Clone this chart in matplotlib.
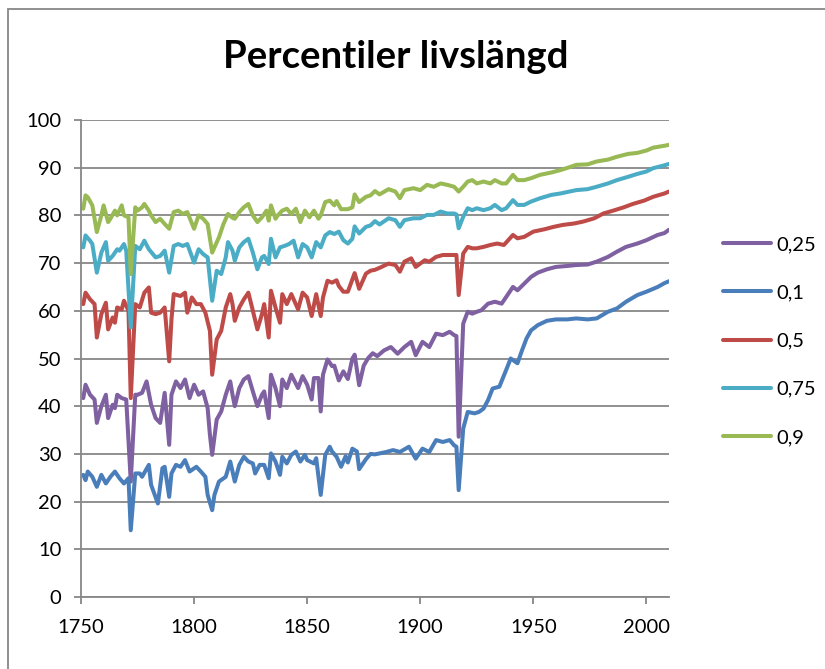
import matplotlib
matplotlib.use('Agg')
import matplotlib.pyplot as plt
from matplotlib.patches import Rectangle

# values (year, remaining life length percentile)
years_25 = [1751, 1752, 1754, 1756, 1757, 1759, 1761, 1762, 1764, 1765, 1766, 1768, 1770, 1772,
            1774, 1775, 1777, 1779, 1781, 1783, 1785, 1787, 1789, 1790, 1792, 1794, 1796, 1798,
            1800, 1802, 1804, 1806, 1807, 1808, 1810, 1812, 1814, 1816, 1817, 1818, 1820, 1822,
            1824, 1826, 1828, 1830, 1831, 1833, 1834, 1836, 1838, 1839, 1841, 1843, 1846, 1848,
            1850, 1852, 1853, 1855, 1856, 1857, 1859, 1861, 1862, 1864, 1866, 1868, 1870, 1871,
            1873, 1875, 1877, 1879, 1881, 1884, 1887, 1890, 1893, 1896, 1898, 1901, 1904, 1907,
            1910, 1913, 1915, 1916, 1917, 1919, 1921, 1923, 1925, 1927, 1930, 1933, 1936, 1939,
            1941, 1943, 1946, 1949, 1952, 1956, 1960, 1965, 1969, 1974, 1978, 1983, 1987, 1991,
            1996, 2000, 2005, 2008, 2010]
p25 = [41.7, 44.5, 42.4, 41.4, 36.5, 40.0, 42.4, 37.5, 40.3, 39.6, 42.4, 41.7, 41.4, 24.2,
       42.4, 42.4, 42.8, 45.2, 40.3, 37.5, 36.5, 42.8, 31.9, 42.4, 45.2, 43.8, 45.6, 41.7,
       44.5, 42.4, 43.1, 39.6, 34.0, 29.8, 37.2, 38.9, 42.4, 45.2, 42.4, 40.0, 43.8, 45.6,
       46.3, 43.1, 40.0, 42.4, 43.1, 37.5, 46.6, 43.8, 40.0, 45.6, 43.8, 46.6, 43.8, 46.3,
       44.5, 41.4, 45.9, 45.9, 38.9, 46.6, 49.8, 48.4, 48.5, 45.4, 47.3, 45.7, 50.0, 50.8,
       44.4, 48.5, 50.1, 51.1, 50.5, 51.7, 52.4, 51.0, 52.4, 53.5, 50.7, 53.5, 52.4, 55.2,
       54.9, 55.6, 54.9, 54.7, 33.6, 57.3, 59.8, 59.4, 59.8, 60.1, 61.5, 61.9, 61.5, 63.6,
       65.0, 64.3, 65.7, 67.1, 68.0, 68.7, 69.2, 69.4, 69.6, 69.7, 70.3, 71.3, 72.4, 73.4,
       74.1, 74.8, 75.9, 76.3, 77.0]

years_10 = [1751, 1752, 1753, 1755, 1757, 1759, 1761, 1763, 1765, 1767, 1769, 1771, 1772, 1774,
            1776, 1777, 1780, 1781, 1784, 1786, 1787, 1789, 1790, 1792, 1794, 1796, 1798, 1801,
            1803, 1805, 1806, 1808, 1809, 1811, 1814, 1816, 1817, 1818, 1820, 1822, 1824, 1826,
            1827, 1829, 1831, 1833, 1834, 1836, 1838, 1839, 1841, 1843, 1845, 1847, 1849, 1850,
            1853, 1854, 1856, 1858, 1860, 1861, 1863, 1865, 1867, 1868, 1870, 1872, 1873, 1876,
            1878, 1880, 1882, 1885, 1888, 1891, 1895, 1898, 1901, 1904, 1907, 1910, 1913, 1915,
            1916, 1917, 1919, 1921, 1924, 1926, 1928, 1930, 1932, 1935, 1938, 1940, 1943, 1945,
            1947, 1949, 1952, 1956, 1960, 1965, 1969, 1974, 1978, 1983, 1987, 1991, 1996, 2000,
            2005, 2008, 2010]
p10 = [25.6, 24.5, 26.3, 25.2, 23.1, 25.6, 23.8, 25.2, 26.3, 24.9, 23.8, 24.9, 14.0, 25.9,
       25.9, 25.2, 27.7, 23.5, 19.6, 27.0, 27.3, 21.0, 25.9, 27.7, 27.3, 28.7, 26.3, 27.3,
       26.3, 25.2, 21.4, 18.2, 21.4, 24.2, 25.2, 28.4, 26.3, 24.2, 27.7, 29.4, 28.4, 28.0,
       25.9, 27.7, 27.7, 24.9, 30.1, 28.4, 25.6, 29.4, 28.0, 29.8, 30.5, 28.4, 29.8, 28.7,
       28.0, 29.1, 21.4, 29.8, 31.5, 30.5, 29.4, 27.3, 29.5, 28.2, 31.1, 30.5, 26.8, 28.9,
       30.0, 29.9, 30.1, 30.4, 30.8, 30.4, 31.5, 29.0, 31.1, 30.4, 32.9, 32.5, 32.9, 31.8,
       31.5, 22.4, 35.3, 38.8, 38.5, 38.8, 39.5, 41.3, 43.7, 44.1, 47.6, 50.0, 49.0, 51.7,
       54.2, 55.9, 57.0, 57.9, 58.2, 58.2, 58.4, 58.2, 58.4, 59.8, 60.5, 61.9, 63.3, 64.0,
       65.0, 65.8, 66.2]

years_50 = [1751, 1752, 1754, 1756, 1757, 1759, 1761, 1762, 1764, 1765, 1766, 1768, 1769, 1771,
            1772, 1774, 1776, 1778, 1780, 1781, 1783, 1785, 1787, 1789, 1790, 1791, 1794, 1796,
            1797, 1799, 1801, 1803, 1805, 1807, 1808, 1810, 1812, 1814, 1816, 1817, 1818, 1820,
            1822, 1824, 1826, 1828, 1830, 1831, 1833, 1834, 1836, 1838, 1839, 1841, 1843, 1846,
            1848, 1850, 1852, 1854, 1856, 1857, 1859, 1861, 1863, 1864, 1866, 1868, 1871, 1873,
            1876, 1878, 1880, 1882, 1886, 1889, 1891, 1893, 1896, 1898, 1902, 1904, 1907, 1910,
            1913, 1916, 1917, 1919, 1921, 1923, 1925, 1928, 1931, 1934, 1937, 1941, 1943, 1946,
            1950, 1955, 1959, 1963, 1968, 1972, 1977, 1981, 1986, 1990, 1994, 1999, 2003, 2008,
            2010]
p50 = [61.4, 63.8, 62.4, 61.4, 54.4, 59.3, 61.7, 56.1, 58.6, 57.5, 60.7, 60.3, 62.1, 60.0,
       41.7, 61.4, 60.7, 63.8, 64.9, 59.6, 59.3, 59.6, 60.7, 49.4, 58.2, 63.5, 63.1, 63.8,
       59.6, 62.8, 61.4, 61.4, 59.6, 55.8, 46.6, 54.0, 55.8, 60.7, 63.5, 61.4, 57.9, 60.7,
       62.4, 63.8, 60.0, 56.1, 59.3, 61.4, 54.4, 64.2, 60.7, 57.5, 63.5, 61.4, 63.5, 60.3,
       63.8, 62.8, 58.9, 63.5, 58.9, 62.8, 66.3, 65.9, 66.4, 65.2, 64.0, 64.0, 67.9, 64.6,
       67.8, 68.4, 68.6, 69.0, 69.9, 69.6, 68.2, 70.3, 71.0, 69.2, 70.6, 70.3, 71.3, 71.7,
       71.7, 71.7, 63.3, 72.0, 73.4, 73.1, 73.1, 73.4, 73.8, 74.1, 73.8, 75.9, 75.2, 75.5,
       76.6, 77.1, 77.6, 78.0, 78.3, 78.7, 79.4, 80.4, 81.1, 81.7, 82.4, 83.1, 83.9, 84.6,
       85.0]

years_75 = [1751, 1752, 1754, 1755, 1757, 1759, 1761, 1762, 1764, 1766, 1767, 1769, 1770, 1772,
            1774, 1776, 1778, 1780, 1783, 1785, 1787, 1789, 1791, 1793, 1795, 1797, 1800, 1802,
            1804, 1806, 1808, 1810, 1812, 1814, 1815, 1817, 1818, 1820, 1822, 1824, 1826, 1828,
            1830, 1831, 1833, 1834, 1836, 1838, 1840, 1842, 1844, 1846, 1848, 1850, 1852, 1854,
            1856, 1858, 1860, 1862, 1864, 1866, 1868, 1870, 1871, 1873, 1876, 1878, 1880, 1882,
            1886, 1889, 1891, 1893, 1897, 1900, 1903, 1906, 1909, 1912, 1915, 1916, 1917, 1919,
            1921, 1923, 1925, 1928, 1931, 1933, 1936, 1938, 1941, 1943, 1946, 1949, 1953, 1958,
            1962, 1966, 1969, 1974, 1978, 1983, 1987, 1992, 1996, 2000, 2003, 2008, 2010]
p75 = [73.3, 75.8, 74.7, 74.0, 68.0, 72.2, 74.4, 70.5, 71.5, 72.9, 72.6, 74.0, 72.6, 56.5,
       73.6, 72.9, 74.7, 72.9, 71.2, 71.5, 72.6, 68.0, 73.6, 74.0, 73.6, 74.0, 70.1, 72.9,
       71.9, 71.2, 62.1, 68.4, 67.7, 71.2, 74.4, 72.6, 70.5, 73.3, 74.4, 75.1, 72.2, 68.7,
       71.2, 71.5, 69.8, 75.1, 71.2, 73.3, 73.6, 74.0, 74.7, 71.2, 74.0, 73.3, 71.2, 74.4,
       73.3, 75.8, 76.5, 76.1, 76.6, 74.8, 74.1, 75.1, 77.7, 76.2, 77.6, 77.9, 78.8, 78.1,
       79.4, 79.0, 77.6, 79.0, 79.4, 79.4, 80.1, 80.1, 80.8, 80.4, 80.4, 80.2, 77.3, 79.7,
       81.5, 81.1, 81.5, 81.1, 81.5, 82.2, 81.1, 81.5, 83.2, 82.2, 82.2, 82.9, 83.6, 84.3,
       84.6, 85.0, 85.3, 85.5, 86.0, 86.7, 87.4, 88.1, 88.7, 89.2, 89.9, 90.5, 90.8]

years_90 = [1751, 1752, 1753, 1755, 1757, 1759, 1760, 1762, 1763, 1765, 1766, 1768, 1769, 1771,
            1772, 1774, 1775, 1777, 1778, 1780, 1781, 1783, 1785, 1787, 1789, 1791, 1793, 1795,
            1797, 1800, 1802, 1804, 1806, 1808, 1811, 1813, 1815, 1817, 1818, 1820, 1822, 1824,
            1826, 1828, 1830, 1832, 1833, 1834, 1836, 1837, 1839, 1841, 1843, 1845, 1847, 1849,
            1851, 1853, 1855, 1856, 1858, 1860, 1862, 1863, 1865, 1868, 1870, 1871, 1873, 1876,
            1878, 1880, 1882, 1886, 1889, 1891, 1893, 1897, 1900, 1903, 1906, 1909, 1912, 1915,
            1917, 1919, 1921, 1923, 1925, 1928, 1931, 1933, 1936, 1938, 1941, 1943, 1946, 1949,
            1953, 1958, 1962, 1966, 1969, 1974, 1978, 1983, 1987, 1992, 1996, 2000, 2003, 2008,
            2010]
p90 = [81.4, 84.2, 83.8, 82.1, 76.5, 80.0, 82.1, 78.6, 79.3, 81.0, 80.0, 82.1, 80.0, 79.6,
       67.7, 81.7, 81.0, 81.7, 82.4, 81.0, 80.0, 78.6, 79.3, 78.2, 77.2, 80.7, 81.0, 80.3,
       80.7, 77.2, 80.0, 79.3, 78.2, 72.2, 75.4, 78.2, 80.3, 79.5, 79.3, 80.7, 81.7, 82.4,
       80.0, 78.6, 79.6, 81.0, 78.9, 82.1, 79.3, 80.0, 81.0, 81.4, 80.3, 81.4, 78.6, 81.0,
       79.6, 81.0, 79.3, 80.0, 82.8, 83.1, 82.1, 83.0, 81.3, 81.3, 81.7, 84.4, 82.8, 83.9,
       84.2, 85.1, 84.4, 85.5, 85.0, 83.6, 85.3, 85.7, 85.3, 86.4, 86.0, 86.7, 86.4, 86.0,
       85.0, 86.0, 87.1, 87.4, 86.7, 87.1, 86.7, 87.4, 86.7, 86.7, 88.5, 87.4, 87.4, 87.8,
       88.5, 89.0, 89.5, 90.1, 90.6, 90.7, 91.3, 91.7, 92.3, 92.9, 93.1, 93.6, 94.2, 94.6,
       94.8]

labels = ['0,25', '0,1', '0,5', '0,75', '0,9']
colors = ['#7F60A1', '#4A7EBB', '#BE4B48', '#4BACC6', '#98B954']
x_ticks = [1750, 1800, 1850, 1900, 1950, 2000]
y_ticks = list(range(0, 101, 10))


def main():
    plt.rcParams['font.family'] = ['Lato', 'DejaVu Sans']
    grey = '#878787'

    fig = plt.figure(figsize=(8.25, 6.69), dpi=100)
    ax = fig.add_axes([81 / 825, 72 / 669, 588 / 825, 477 / 669])

    series = [(years_25, p25), (years_10, p10), (years_50, p50), (years_75, p75), (years_90, p90)]
    handles = []
    for (yrs, vals), lab, col in zip(series, labels, colors):
        h, = ax.plot(yrs, vals, color=col, lw=2.9, label=lab,
                     solid_joinstyle='round', solid_capstyle='round')
        handles.append(h)

    ax.set_xlim(1750, 2010)
    ax.set_ylim(0, 100)
    ax.set_xticks(x_ticks)
    ax.set_yticks(y_ticks)
    ax.yaxis.grid(True, color=grey, lw=1.3)
    ax.set_axisbelow(True)

    for s in ['top', 'right']:
        ax.spines[s].set_visible(False)
    for s in ['left', 'bottom']:
        ax.spines[s].set_color(grey)
        ax.spines[s].set_linewidth(1.3)

    ax.tick_params(axis='y', direction='out', length=5, width=1.3, color=grey,
                   labelsize=14.5, pad=9)
    ax.tick_params(axis='x', direction='out', length=5, width=1.3, color=grey,
                   labelsize=14.5, pad=11)

    fig.text(0.48, 1 - 57 / 669, 'Percentiler livslängd', ha='center', va='center',
             fontsize=27.5, fontweight='bold')

    fig.legend(handles, labels, loc='center left', bbox_to_anchor=(723 / 825, 1 - 341 / 669),
               frameon=False, borderaxespad=0, borderpad=0, handlelength=2.4,
               handletextpad=0.25, labelspacing=1.55, fontsize=14.5)

    # chart area border, cut off at the right and bottom like the reference
    fig.patches.append(Rectangle((8 / 825, -0.1), 1.2, 1.1 - 9 / 669, transform=fig.transFigure,
                                 fill=False, ec=grey, lw=1.3))

    fig.savefig('out.png', dpi=100)


if __name__ == "__main__":
    main()
